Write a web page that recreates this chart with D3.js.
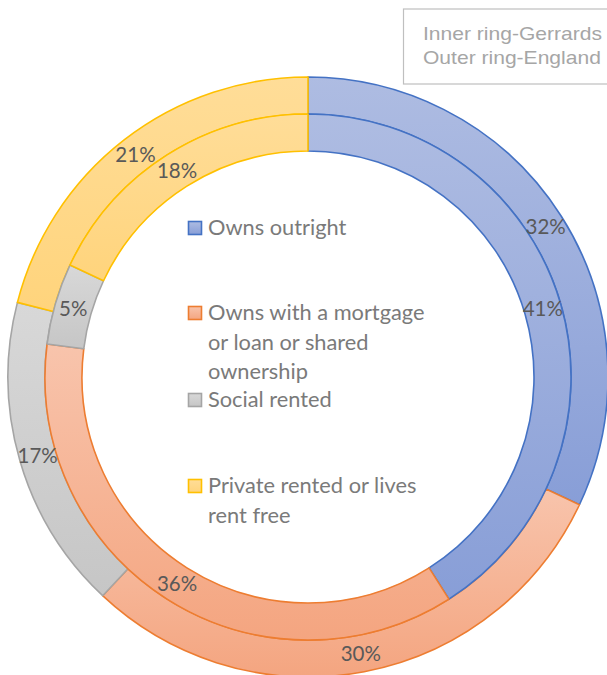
<!DOCTYPE html>
<html><head><meta charset="utf-8">
<script src="https://cdn.jsdelivr.net/npm/d3@7"></script>
<style>html,body{margin:0;padding:0;background:#fff;overflow:hidden}</style>
</head><body>
<svg id="c" width="607" height="675"></svg>
<script>
const categories = ["Owns outright", "Owns with a mortgage or loan or shared ownership", "Social rented", "Private rented or lives rent free"];
const legendLines = [["Owns outright"], ["Owns with a mortgage", "or loan or shared", "ownership"], ["Social rented"], ["Private rented or lives", "rent free"]];
const innerGerrards = [41, 36, 5, 18];
const outerEngland = [32, 30, 17, 21];
const noteLines = ["Inner ring-Gerrards", "Outer ring-England"];

const strokes = ["#4472C4", "#ED7D31", "#A5A5A5", "#FFC000"];
const lights = ["#AEBCE2", "#F8C4AC", "#D8D8D8", "#FFDD98"];
const darks = ["#889ED7", "#F4A580", "#C6C6C6", "#FFD47C"];

const svg = d3.select("#c");
const defs = svg.append("defs");
categories.forEach((c, i) => {
  const g = defs.append("linearGradient").attr("id", "g" + i)
    .attr("x1", 0).attr("y1", 0).attr("x2", 0).attr("y2", 1);
  g.append("stop").attr("offset", "0%").attr("stop-color", lights[i]);
  g.append("stop").attr("offset", "100%").attr("stop-color", darks[i]);
});

const cx = 308, cy = 377;
const root = svg.append("g").attr("transform", `translate(${cx},${cy})`);
const pie = d3.pie().sort(null).value(d => d).startAngle(0).endAngle(2 * Math.PI);

const rings = [
  {data: outerEngland, r0: 263, r1: 300},
  {data: innerGerrards, r0: 226, r1: 263}
];
rings.forEach(ring => {
  const arc = d3.arc().innerRadius(ring.r0).outerRadius(ring.r1);
  const arcs = pie(ring.data);
  const g = root.append("g");
  g.selectAll("path").data(arcs).enter().append("path")
    .attr("d", arc)
    .attr("fill", (d, i) => `url(#g${i})`)
    .attr("stroke", (d, i) => strokes[i])
    .attr("stroke-width", 1.6)
    .attr("stroke-linejoin", "round");
  ring.arcs = arcs; ring.arc = arc;
});
rings.forEach(ring => {
  root.append("g").selectAll("text").data(ring.arcs).enter().append("text")
    .attr("transform", d => `translate(${ring.arc.centroid(d)})`)
    .attr("text-anchor", "middle").attr("dy", "0.36em")
    .attr("font-family", "Lato, 'Open Sans', sans-serif").attr("font-size", 20.5)
    .attr("fill", "#595959")
    .text(d => d.data + "%");
});

// legend
const leg = svg.append("g");
const legY = [[235], [320, 349.5, 379], [407], [493, 522.5]];
legendLines.forEach((lines, i) => {
  leg.append("rect").attr("x", 188.5).attr("y", legY[i][0] - 13.5)
    .attr("width", 13).attr("height", 13)
    .attr("fill", `url(#g${i})`).attr("stroke", strokes[i]).attr("stroke-width", 1.6);
  lines.forEach((t, j) => {
    leg.append("text").attr("x", 208).attr("y", legY[i][j])
      .attr("font-family", "Lato, 'Open Sans', sans-serif").attr("font-size", 21.8)
      .attr("fill", "#7a7a7a").text(t);
  });
});

// note box
const note = svg.append("g");
note.append("rect").attr("x", 403.5).attr("y", 9).attr("width", 210).attr("height", 75)
  .attr("fill", "#fff").attr("stroke", "#BFBFBF").attr("stroke-width", 1.2);
noteLines.forEach((t, j) => {
  note.append("text").attr("transform", `translate(423,${40 + j * 24}) scale(1.17,1)`)
    .attr("font-family", "'Liberation Sans', Arial, sans-serif").attr("font-size", 18)
    .attr("fill", "#A6A6A6").text(t);
});
</script>
</body></html>
